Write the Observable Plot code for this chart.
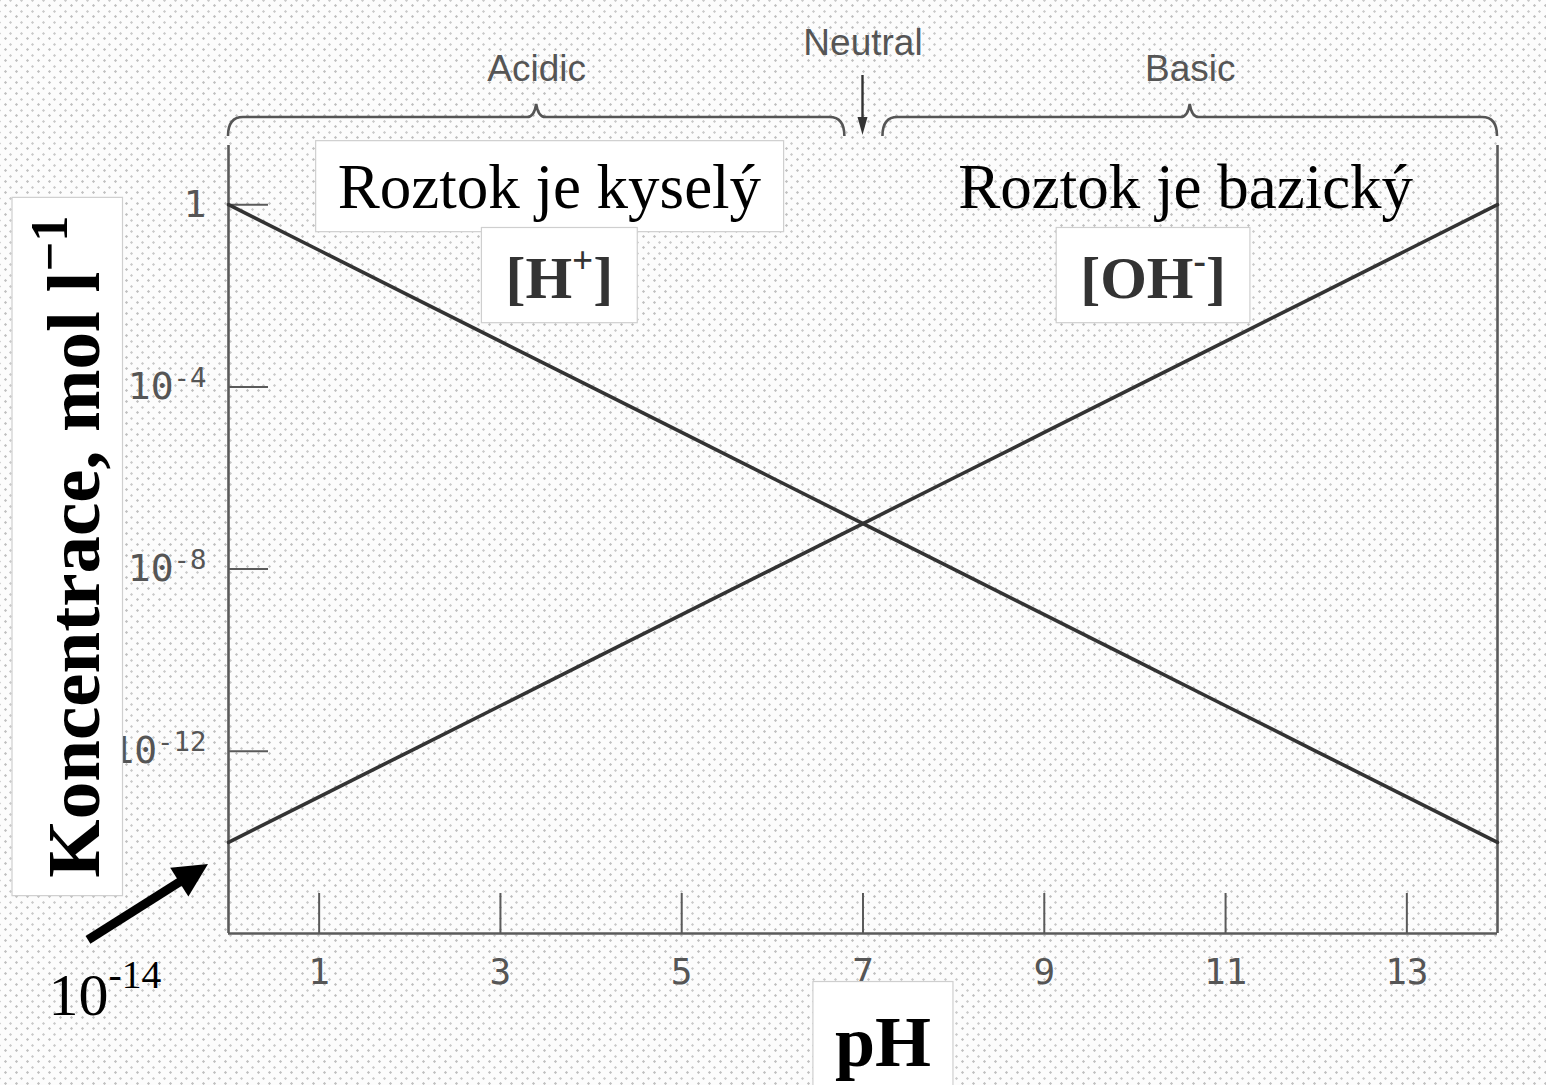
<!DOCTYPE html>
<html>
<head>
<meta charset="utf-8">
<script src="https://cdn.jsdelivr.net/npm/d3@7"></script>
<script src="https://cdn.jsdelivr.net/npm/@observablehq/plot@0.6"></script>
<style>
html, body { margin: 0; padding: 0; }
body {
  width: 1546px; height: 1085px; overflow: hidden;
  background-color: #fcfcfc;
  background-image:
    radial-gradient(circle, rgba(140,140,140,0.55) 0.9px, transparent 1.5px),
    radial-gradient(circle, rgba(140,140,140,0.45) 0.9px, transparent 1.5px);
  background-size: 11px 11px, 11px 11px;
  background-position: 0 0, 5px 6px;
}
#chart svg { display: block; }
</style>
</head>
<body>
<div id="chart"></div>
<script>
// ---------- data ----------
const pH      = [0, 1, 2, 3, 4, 5, 6, 7, 8, 9, 10, 11, 12, 13, 14];
const hPlus   = [1, 1e-1, 1e-2, 1e-3, 1e-4, 1e-5, 1e-6, 1e-7, 1e-8, 1e-9, 1e-10, 1e-11, 1e-12, 1e-13, 1e-14];
const ohMinus = [1e-14, 1e-13, 1e-12, 1e-11, 1e-10, 1e-9, 1e-8, 1e-7, 1e-6, 1e-5, 1e-4, 1e-3, 1e-2, 1e-1, 1];

const xTicks = [1, 3, 5, 7, 9, 11, 13];
const yTicks = [1, 1e-4, 1e-8, 1e-12];
const yTickLabels = ["1", "10^{-4}", "10^{-8}", "10^{-12}"];

const xDomain = [0, 14];
const yDomain = [1e-16, Math.pow(10, 1.3)];

const regionNames = ["Acidic", "Basic"];
const regionFrom = [0, 7.22];
const regionTo = [6.8, 14];
const neutralName = "Neutral";
const neutralPH = 7;

const acidText = "Roztok je kyselý";
const baseText = "Roztok je bazický";
const hIonText = "[H^{+}]";
const ohIonText = "[OH^{-}]";
const yTitle = "Koncentrace, mol l^{−1}";
const xTitle = "pH";
const minConcText = "10^{-14}";

// ---------- tables ----------
const hRows = pH.map((p, i) => ({pH: p, conc: hPlus[i]}));
const ohRows = pH.map((p, i) => ({pH: p, conc: ohMinus[i]}));
const minPoint = [{pH: pH[0], conc: ohMinus[0], label: minConcText}];
const regions = regionNames.map((n, i) => ({name: n, from: regionFrom[i], to: regionTo[i], mid: (regionFrom[i] + regionTo[i]) / 2}));

const serif = "'Liberation Serif', 'Times New Roman', serif";
const mono = "'DejaVu Sans Mono', 'Liberation Mono', monospace";
const sans = "'Liberation Sans', Arial, sans-serif";

// custom annotation mark: braces, neutral arrow, arrow to 10^-14
function annotationMark(index, scales, values, dimensions) {
  const x = scales.x, y = scales.y;
  const g = d3.create("svg:g");
  const top = dimensions.marginTop;
  const yb = top - 28, ye = top - 9, tip = 13, r = 15;
  regions.forEach(rg => {
    const x1 = x(rg.from), x2 = x(rg.to), xm = x(rg.mid);
    const p = d3.path();
    p.moveTo(x1, ye);
    p.quadraticCurveTo(x1, yb, x1 + r, yb);
    p.lineTo(xm - 9, yb);
    p.quadraticCurveTo(xm - 2, yb, xm, yb - tip);
    p.quadraticCurveTo(xm + 2, yb, xm + 9, yb);
    p.lineTo(x2 - r, yb);
    p.quadraticCurveTo(x2, yb, x2, ye);
    g.append("path").attr("d", p.toString()).attr("fill", "none")
      .attr("stroke", "#555").attr("stroke-width", 2.6);
  });
  // neutral arrow
  const xn = x(neutralPH);
  g.append("line").attr("x1", xn).attr("x2", xn).attr("y1", top - 70).attr("y2", top - 22)
    .attr("stroke", "#333").attr("stroke-width", 2.4);
  g.append("path").attr("d", `M${xn - 5},${top - 28}L${xn + 5},${top - 28}L${xn},${top - 10}Z`).attr("fill", "#333");
  // thick black arrow pointing at the 10^-14 end of the OH- line
  const ax = x(minPoint[0].pH), ay = y(minPoint[0].conc);
  const tx = ax - 20, ty = ay + 22;      // tip
  const sx = ax - 140, sy = ay + 98;     // tail
  const dx = tx - sx, dy = ty - sy, len = Math.hypot(dx, dy);
  const ux = dx / len, uy = dy / len, nx = -uy, ny = ux;
  const hl = 34, hw = 17;
  const bx = tx - ux * hl, by = ty - uy * hl;
  g.append("line").attr("x1", sx).attr("y1", sy).attr("x2", bx + ux * 4).attr("y2", by + uy * 4)
    .attr("stroke", "#000").attr("stroke-width", 9);
  g.append("path").attr("d", `M${tx},${ty}L${bx + nx * hw},${by + ny * hw}L${bx - nx * hw},${by - ny * hw}Z`).attr("fill", "#000");
  return g.node();
}

const chart = Plot.plot({
  width: 1546,
  height: 1085,
  marginLeft: 228,
  marginRight: 49,
  marginTop: 145,
  marginBottom: 152,
  style: {background: "transparent", overflow: "visible"},
  x: {domain: xDomain},
  y: {type: "log", domain: yDomain},
  marks: [
    // frame lines (left, right, bottom)
    Plot.ruleX(xDomain, {stroke: "#5a5a5a", strokeWidth: 2.6}),
    Plot.ruleY([yDomain[0]], {stroke: "#5a5a5a", strokeWidth: 2.6}),
    // ticks pointing inward
    Plot.axisX(xTicks, {tickSize: -40, fill: "none", label: null, stroke: "#5a5a5a", strokeWidth: 2}),
    Plot.axisY(yTicks, {tickSize: -40, fill: "none", label: null, stroke: "#5a5a5a", strokeWidth: 2}),
    // tick labels
    Plot.axisX(xTicks, {tickSize: 0, tickPadding: 25, label: null, fontSize: 36, fontFamily: mono, fill: "#555"}),
    Plot.axisY(yTicks, {tickSize: 0, tickPadding: 22, label: null, fontSize: 38, fontFamily: mono, fill: "#555",
      tickFormat: d => yTickLabels[yTicks.indexOf(d)]}),
    // data lines
    Plot.line(hRows, {x: "pH", y: "conc", stroke: "#333", strokeWidth: 3.6}),
    Plot.line(ohRows, {x: "pH", y: "conc", stroke: "#333", strokeWidth: 3.6}),
    // region labels
    Plot.text(regions, {x: "mid", text: "name", frameAnchor: "top", lineAnchor: "middle", dy: -76, fontSize: 37, fontFamily: sans, fill: "#555"}),
    Plot.text([{x: neutralPH, t: neutralName}], {x: "x", text: "t", frameAnchor: "top", lineAnchor: "middle", dy: -102, fontSize: 37, fontFamily: sans, fill: "#555"}),
    annotationMark,
    // texts (some get white boxes afterwards)
    Plot.text([{x: 3.54, t: acidText}], {x: "x", text: "t", frameAnchor: "top", lineAnchor: "middle", dy: 42, fontSize: 63, fontFamily: serif, fill: "#000"}),
    Plot.text([{x: 10.56, t: baseText}], {x: "x", text: "t", frameAnchor: "top", lineAnchor: "middle", dy: 42, fontSize: 63, fontFamily: serif, fill: "#000"}),
    Plot.text([{x: 3.65, t: hIonText}], {x: "x", text: "t", frameAnchor: "top", lineAnchor: "middle", dy: 133, fontSize: 60, fontWeight: "bold", fontFamily: serif, fill: "#333"}),
    Plot.text([{x: 10.2, t: ohIonText}], {x: "x", text: "t", frameAnchor: "top", lineAnchor: "middle", dy: 133, fontSize: 60, fontWeight: "bold", fontFamily: serif, fill: "#333"}),
    Plot.text([yTitle], {frameAnchor: "left", textAnchor: "middle", lineAnchor: "middle", dx: -154, dy: 7, rotate: -90, fontSize: 75, fontWeight: "bold", fontFamily: serif, fill: "#000"}),
    Plot.text([{x: 7.22, t: xTitle}], {x: "x", text: "t", frameAnchor: "bottom", lineAnchor: "middle", dy: 109, fontSize: 72, fontWeight: "bold", fontFamily: serif, fill: "#000"}),
    Plot.text(minPoint, {x: "pH", y: "conc", text: "label", dx: -180, dy: 153, textAnchor: "start", lineAnchor: "middle", fontSize: 60, fontFamily: serif, fill: "#000"})
  ]
});

document.getElementById("chart").appendChild(chart);

// ---------- post-processing: white label boxes and superscripts ----------
const svgNS = "http://www.w3.org/2000/svg";
const boxSpecs = new Map([
  [acidText, [11, 22, 10, 22]],
  [hIonText, [12, 24, 12, 24]],
  [ohIonText, [12, 24, 12, 24]],
  [yTitle, [8, 18, 8, 18]],
  [xTitle, [20, 22, 12, 22]]
]);
const supSpecs = new Map([
  [hIonText, [0.62, 0.42]],
  [ohIonText, [0.62, 0.42]],
  [yTitle, [0.7, 0.42]],
  [minConcText, [0.66, 0.45]]
]);
function supify(textEl, scale, raise) {
  const s = textEl.textContent;
  if (!s.includes("^{")) return;
  const fs = parseFloat(getComputedStyle(textEl).fontSize);
  while (textEl.firstChild) textEl.removeChild(textEl.firstChild);
  let shifted = false;
  s.split(/(\^\{[^}]*\})/).forEach(part => {
    if (!part) return;
    const t = document.createElementNS(svgNS, "tspan");
    if (part.startsWith("^{")) {
      t.textContent = part.slice(2, -1);
      t.setAttribute("font-size", scale * fs);
      t.setAttribute("dy", -raise * fs);
      shifted = true;
    } else {
      t.textContent = part;
      if (shifted) { t.setAttribute("dy", raise * fs); shifted = false; }
    }
    textEl.appendChild(t);
  });
}
Array.from(chart.querySelectorAll("text")).forEach(el => {
  const raw = el.textContent;
  const sp = supSpecs.get(raw) || (yTickLabels.includes(raw) ? [0.72, 0.32] : null);
  if (sp) supify(el, sp[0], sp[1]);
  const pad = boxSpecs.get(raw);
  if (pad) {
    const b = el.getBBox();
    const [pt, pr, pb, pl] = pad;
    const rect = document.createElementNS(svgNS, "rect");
    rect.setAttribute("x", b.x - pl);
    rect.setAttribute("y", b.y - pt);
    rect.setAttribute("width", b.width + pl + pr);
    rect.setAttribute("height", b.height + pt + pb);
    rect.setAttribute("fill", "#fff");
    rect.setAttribute("stroke", "#cfcfcf");
    rect.setAttribute("stroke-width", 1.2);
    const tr = el.getAttribute("transform");
    if (tr) rect.setAttribute("transform", tr);
    el.parentNode.insertBefore(rect, el);
  }
});
</script>
</body>
</html>
